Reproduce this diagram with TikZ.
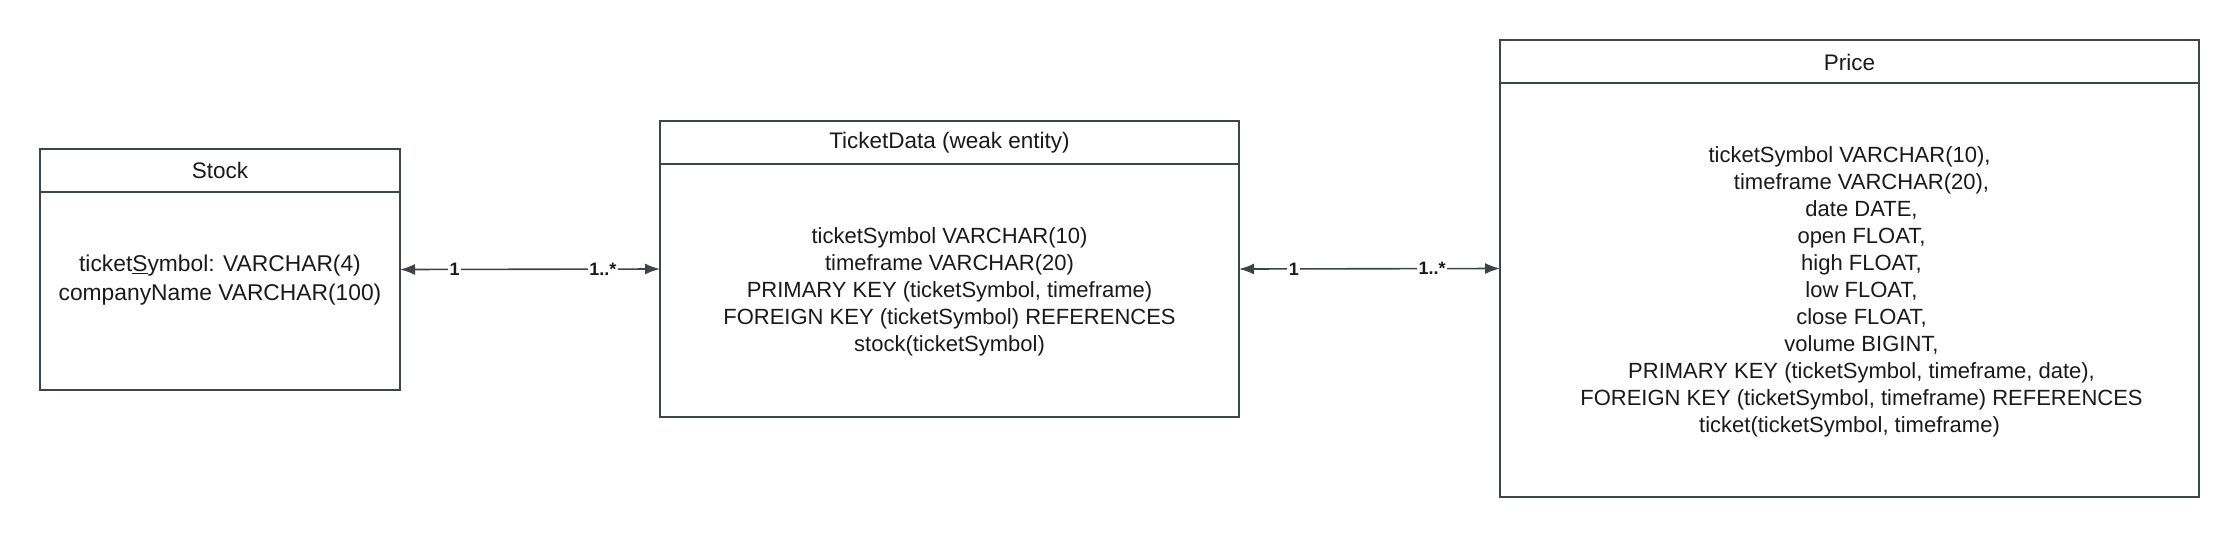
\documentclass[tikz,border=0pt]{standalone}
\usepackage{fontspec}
\setmainfont{Liberation Sans}
\usetikzlibrary{arrows.meta}
\definecolor{edgecol}{HTML}{3F434A}
\definecolor{ink}{HTML}{1A1A1A}
\begin{document}
\begin{tikzpicture}[x=1pt,y=-1pt,
  entity/.style={draw=edgecol, line width=2pt, inner sep=0pt, outer sep=0pt, fill=white},
  divider/.style={draw=edgecol, line width=2pt},
  hdr/.style={text=ink, inner sep=0pt, font=\fontsize{22.5}{27}\selectfont},
  body/.style={text=ink, inner sep=0pt, align=center, font=\fontsize{22}{27}\selectfont},
  conn/.style={draw=edgecol, line width=1.6pt, {Latex[length=15pt,width=11pt]}-{Latex[length=15pt,width=11pt]}},
  card/.style={text=ink, fill=white, inner sep=1.5pt, font=\fontsize{18}{20}\selectfont\bfseries}
]
\useasboundingbox (0,0) rectangle (2240,539);

% Stock
\node[entity, minimum width=360pt, minimum height=241pt] (stock) at (220,269.5) {};
\draw[divider] (stock.west |- 0,192) -- (stock.east |- 0,192);
\node[hdr] (stockhdr) at (220,170.5) {Stock};
\node[body, font=\fontsize{22.8}{29.5}\selectfont] (stockbody) at (220,280) {ticket\underline{S}ymbol: VARCHAR(4)\\companyName VARCHAR(100)};

% TicketData
\node[entity, minimum width=579pt, minimum height=296pt] (ticket) at (949.5,269) {};
\draw[divider] (ticket.west |- 0,164) -- (ticket.east |- 0,164);
\node[hdr] (tickethdr) at (949.5,143) {TicketData (weak entity)};
\node[body] (ticketbody) at (949.5,292) {ticketSymbol VARCHAR(10)\\timeframe VARCHAR(20)\\PRIMARY KEY (ticketSymbol, timeframe)\\FOREIGN KEY (ticketSymbol) REFERENCES\\stock(ticketSymbol)};

% Price
\node[entity, minimum width=699pt, minimum height=457pt] (price) at (1849.5,268.5) {};
\draw[divider] (price.west |- 0,83) -- (price.east |- 0,83);
\node[hdr] (pricehdr) at (1849.5,62) {Price};
\node[body] (pricebody) at (1849.5,292) {ticketSymbol VARCHAR(10),\\
\hspace*{24pt}timeframe VARCHAR(20),\\
\hspace*{24pt}date DATE,\\
\hspace*{24pt}open FLOAT,\\
\hspace*{24pt}high FLOAT,\\
\hspace*{24pt}low FLOAT,\\
\hspace*{24pt}close FLOAT,\\
\hspace*{24pt}volume BIGINT,\\
\hspace*{24pt}PRIMARY KEY (ticketSymbol, timeframe, date),\\
\hspace*{24pt}FOREIGN KEY (ticketSymbol, timeframe) REFERENCES\\
ticket(ticketSymbol, timeframe)};

% Connectors
\draw[conn] (stock.east) -- node[card, pos=0.21] {1} node[card, pos=0.78] {1..*} (ticket.west);
\draw[conn] (ticket.east) -- node[card, pos=0.21] {1} node[card, pos=0.74] {1..*} (price.west);
\end{tikzpicture}
\end{document}
